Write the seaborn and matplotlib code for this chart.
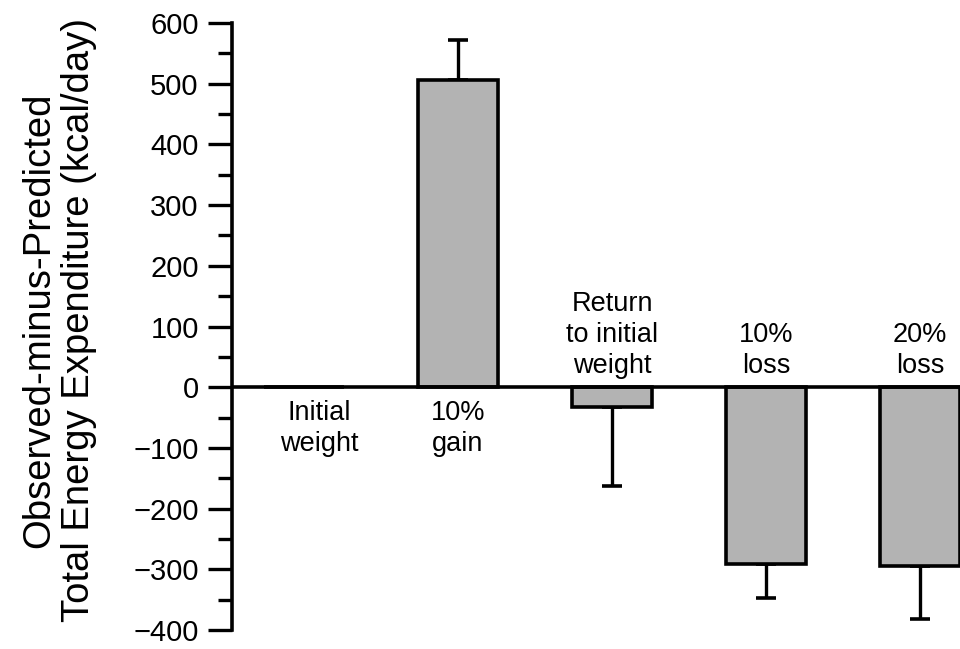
import matplotlib
matplotlib.use("Agg")
import matplotlib.pyplot as plt
import seaborn as sns
import pandas as pd
import numpy as np
from matplotlib.ticker import MultipleLocator

# Observed-minus-predicted total energy expenditure (kcal/day) per phase
phases = ["Initial weight", "10% gain", "Return to initial weight", "10% loss", "20% loss"]
phase_labels = ["Initial\nweight", "10%\ngain", "Return\nto initial\nweight", "10%\nloss", "20%\nloss"]
tee_diff = [0, 506, -32, -291, -294]
tee_err = [0, 66, 130, 57, 88]

sns.set_theme(style="white")
plt.rcParams["font.family"] = ["Liberation Sans", "DejaVu Sans"]

fig = plt.figure(figsize=(9.6, 6.49), dpi=100)
ax = fig.add_axes([232 / 960, 19 / 649, 728 / 960, 607 / 649])

df = pd.DataFrame({"phase": phases, "tee": tee_diff})
sns.barplot(data=df, x="phase", y="tee", order=phases, color="#b3b3b3",
            saturation=1, width=0.52, edgecolor="black", linewidth=2.6,
            errorbar=None, ax=ax, zorder=3)

# One-sided error bars pointing away from zero
vals = np.array(tee_diff, dtype=float)
errs = np.array(tee_err, dtype=float)
lower = np.where(vals < 0, errs, 0)
upper = np.where(vals > 0, errs, 0)
xs = np.arange(len(phases))
mask = errs > 0
ax.errorbar(xs[mask], vals[mask], yerr=[lower[mask], upper[mask]], fmt="none",
            ecolor="black", elinewidth=2.4, capsize=7.5, capthick=2.6, zorder=2)

ax.axhline(0, color="black", linewidth=2.6, zorder=4)

ax.set_xlim(-0.468, 4.26)
ax.set_ylim(-400, 600)
ax.yaxis.set_major_locator(MultipleLocator(100))
ax.yaxis.set_minor_locator(MultipleLocator(50))
ax.tick_params(axis="y", which="major", length=17, width=2.4, labelsize=21,
               pad=7, color="black", labelcolor="black", left=True)
ax.tick_params(axis="y", which="minor", length=10, width=2.4, color="black", left=True)
ax.set_xticks([])
ax.set_xlabel("")

for side in ["top", "right", "bottom"]:
    ax.spines[side].set_visible(False)
ax.spines["left"].set_linewidth(2.6)
ax.spines["left"].set_color("black")

ax.set_ylabel("Observed-minus-Predicted\nTotal Energy Expenditure (kcal/day)",
              fontsize=27.5, color="black", linespacing=1.15)
ax.yaxis.set_label_coords(-0.185, 0.51)

# Phase names written beside the zero line
label_dx = [0.1, 0, 0, 0, 0]
for i, (lab, v) in enumerate(zip(phase_labels, tee_diff)):
    if v >= 0:
        ax.text(i + label_dx[i], -21, lab, ha="center", va="top", fontsize=19.5,
                color="black", linespacing=1.25)
    else:
        ax.text(i + label_dx[i], 13, lab, ha="center", va="bottom", fontsize=19.5,
                color="black", linespacing=1.25)

fig.savefig("out.png", dpi=100, facecolor="white")
